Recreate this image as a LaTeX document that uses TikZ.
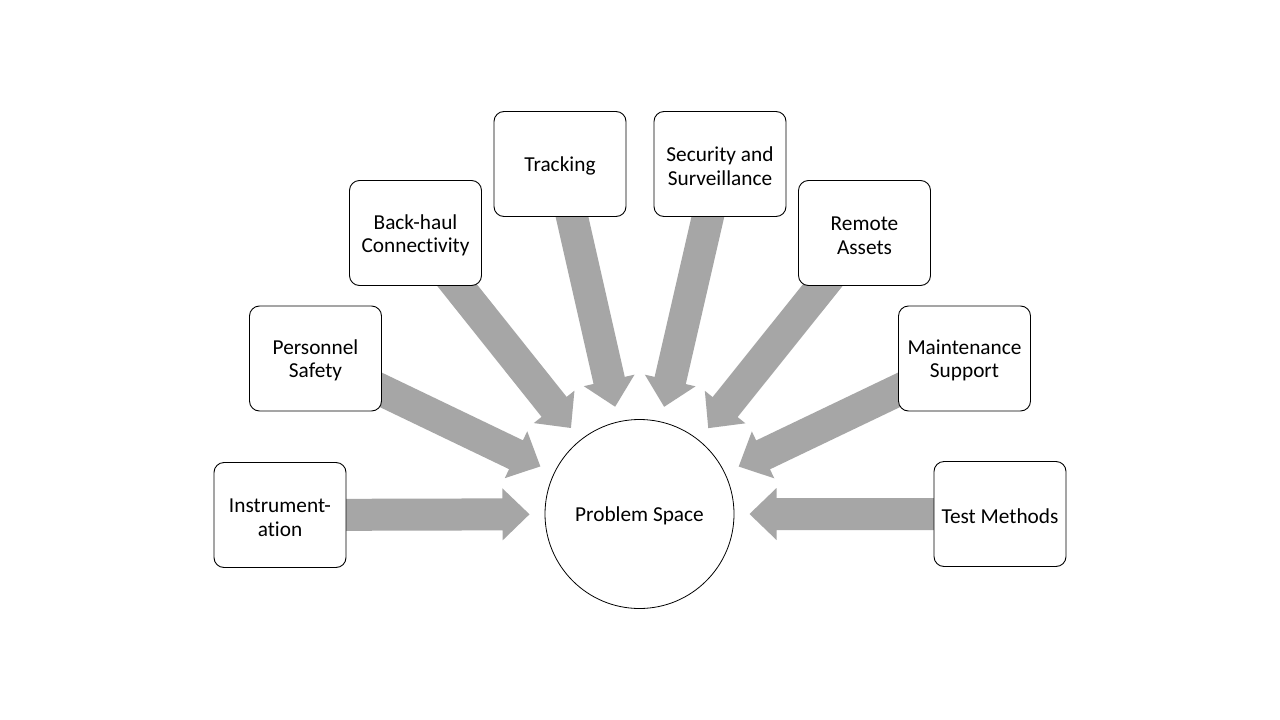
\documentclass[tikz,border=0pt]{standalone}
\usepackage{fontspec}
\setmainfont{Carlito}[Ligatures={NoCommon}]
\usetikzlibrary{calc,backgrounds}
\definecolor{arrowgray}{HTML}{A6A6A6}
\newcommand\lowerstrut{\rule{0pt}{19pt}}
\newcommand\twostrut{\rule{0pt}{19pt}}
\begin{document}
\begin{tikzpicture}[x=1pt,y=-1pt,
  box/.style={draw=black, line width=0.9pt, fill=white, rounded corners=10pt,
    minimum width=132pt, minimum height=105pt, align=center, inner sep=0pt,
    font=\fontsize{21.3}{23.4}\selectfont, text=black,
    execute at begin node=\lowerstrut},
  hub/.style={draw=black, line width=0.8pt, fill=white, circle,
    minimum size=189pt, inner sep=0pt, font=\fontsize{21.3}{23.4}\selectfont,
    execute at begin node=\lowerstrut},
  bigarrow/.style={fill=arrowgray, draw=none}]
\useasboundingbox (0,0) rectangle (1280,720);

\node[hub] (hub) at (639.5,514) {Problem Space};

\node[box] (instr)  at (280,515)     {\twostrut Instrument-\\ation};
\node[box] (pers)   at (315.5,358.5) {\twostrut Personnel\\Safety};
\node[box] (back)   at (415.5,233)   {\twostrut Back-haul\\Connectivity};
\node[box] (track)  at (560,164)     {Tracking};
\node[box] (sec)    at (720,164)     {\twostrut Security and\\Surveillance};
\node[box] (remote) at (864.5,233)   {\twostrut Remote\\Assets};
\node[box] (maint)  at (964.5,358.5) {\twostrut Maintenance\\Support};
\node[box] (test)   at (1000,514)    {Test Methods};

\begin{scope}[on background layer]
\fill[white] (0,0) rectangle (1280,720);
\foreach \n in {instr,pers,back,track,sec,remote,maint,test}{
  \coordinate (T-\n) at ($(hub)!110pt!(\n)$);
  \coordinate (H-\n) at ($(T-\n)!27pt!(\n)$);
  \fill[bigarrow] ($(\n)!16pt!90:(hub)$) -- ($(H-\n)!16pt!-90:(\n)$)
     -- ($(H-\n)!26pt!-90:(\n)$) -- (T-\n) -- ($(H-\n)!26pt!90:(\n)$)
     -- ($(H-\n)!16pt!90:(\n)$) -- ($(\n)!16pt!-90:(hub)$) -- cycle;
}
\end{scope}
\end{tikzpicture}
\end{document}
